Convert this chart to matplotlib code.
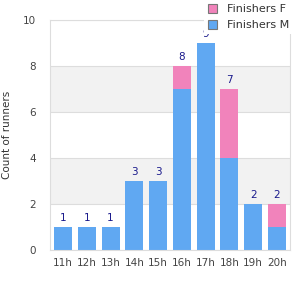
import matplotlib
matplotlib.use("Agg")
import matplotlib.pyplot as plt
from matplotlib.patches import Patch

categories = ["11h", "12h", "13h", "14h", "15h", "16h", "17h", "18h", "19h", "20h"]
finishers_m = [1, 1, 1, 3, 3, 7, 9, 4, 2, 1]
finishers_f = [0, 0, 0, 0, 0, 1, 0, 3, 0, 1]
totals = [m + f for m, f in zip(finishers_m, finishers_f)]

blue = "#60a8f2"
pink = "#f183bb"

fig = plt.figure(figsize=(3, 3), dpi=100)
ax = fig.add_axes([50/300, 50/300, 240/300, 230/300])

# alternating bands
for lo in (2, 6):
    ax.axhspan(lo, lo + 2, color="#f2f2f2", zorder=0, lw=0)
for y in range(0, 11, 2):
    ax.axhline(y, color="#dddddd", lw=0.8, zorder=1)

x = range(len(categories))
ax.bar(x, finishers_m, width=0.75, color=blue, zorder=2)
ax.bar(x, finishers_f, width=0.75, bottom=finishers_m, color=pink, zorder=2)
for i, t in enumerate(totals):
    ax.annotate(str(t), (i, t), xytext=(0, 3), textcoords="offset points",
                ha="center", va="bottom", fontsize=7.5, color="#1a1a8c", zorder=3)

ax.set_xlim(-0.55, len(categories) - 0.45)
ax.set_ylim(0, 10)
ax.set_yticks(range(0, 11, 2))
ax.set_xticks(list(x))
ax.set_xticklabels(categories)
ax.tick_params(length=0, labelsize=7.5, colors="#444444", pad=6)
ax.tick_params(axis="y", pad=10)
ax.set_ylabel("Count of runners", fontsize=7.5, color="#333333", labelpad=8)
for s in ax.spines.values():
    s.set_color("#dddddd")
    s.set_linewidth(0.8)

handles = [Patch(facecolor=pink, edgecolor="#777777", lw=0.8),
           Patch(facecolor=blue, edgecolor="#777777", lw=0.8)]
leg = fig.legend(handles, ["Finishers F", "Finishers M"], loc="upper left",
                 bbox_to_anchor=(204/300, 1.0), fontsize=8, frameon=True,
                 handlelength=0.85, handleheight=0.85, handletextpad=0.9,
                 labelspacing=0.5, borderaxespad=0, borderpad=0.35)
leg.get_frame().set_edgecolor("none")
leg.get_frame().set_facecolor("white")
leg.get_frame().set_alpha(1)
leg.get_frame().set_boxstyle("square", pad=0)
for t in leg.get_texts():
    t.set_color("#333333")

fig.savefig("out.png", dpi=100)
